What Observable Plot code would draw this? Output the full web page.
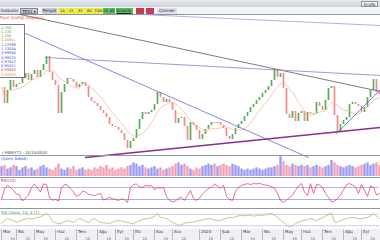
<!DOCTYPE html>
<html><head><meta charset="utf-8">
<script src="https://cdn.jsdelivr.net/npm/d3@7"></script>
<script src="https://cdn.jsdelivr.net/npm/@observablehq/plot@0.6"></script>
<style>
body{margin:0;width:380px;height:240px;overflow:hidden;background:#fff;font-family:"DejaVu Sans",sans-serif;}
#root{position:relative;width:380px;height:240px;overflow:hidden;}
.abs{position:absolute;box-sizing:border-box;white-space:nowrap;overflow:hidden;}
.panel svg{display:block;}
</style></head><body><div id="root"></div>
<script>
// ---------- DATA ----------
const close = [8.8,7.2,8.5,9.5,8.8,9.1,9.2,9.7,10.2,9.5,10.1,10.5,9.8,10.5,11.1,11.9,10.3,9.5,9.0,6.2,
8.3,9.1,9.7,9.6,9.3,8.8,9.1,9.3,8.9,7.8,7.4,7.2,6.9,6.5,6.2,5.8,5.1,4.9,4.8,4.5,
4.2,3.5,2.7,3.4,3.7,4.6,5.6,6.3,6.1,6.3,6.5,7.1,8.3,7.8,7.3,7.6,7.3,6.5,5.2,5.7,
5.8,4.9,3.5,5.3,5.0,4.5,3.6,4.1,4.6,5.0,5.3,5.2,5.3,5.0,4.7,3.9,3.6,4.1,4.7,5.1,
5.4,5.9,6.3,6.8,7.1,7.5,7.8,8.2,8.5,8.9,9.5,10.6,9.8,10.2,8.7,6.1,5.7,6.4,5.4,6.2,
6.4,5.4,6.3,6.1,6.2,7.3,6.9,6.5,7.5,8.7,8.9,6.0,4.3,5.1,5.5,5.8,7.1,7.3,7.1,6.9,
6.3,6.8,7.8,8.5,9.6,8.3,8.1];
const volume = [8,9,6,7,9,8,5,7,8,6, 7,5,6,8,9,7,6,5,7,10, 6,5,7,6,8,5,6,7,5,6,
5,7,6,8,7,9,6,7,5,6, 7,6,8,9,11,10,8,9,7,6, 7,8,6,7,5,6,7,8,10,11,
9,10,8,6,5,7,6,8,9,10, 9,10,8,9,10,9,8,10,9,8, 6,5,6,5,6,7,6,5,6,7,
7,8,9,16,12,9,8,10,9,8, 9,8,9,7,8,9,8,7,8,9, 13,11,9,8,7,8,9,8,7,8, 9,10,11,9,10,11,9];
const rsi = [30,65,78,70,60,48,45,25,35,45, 70,82,68,55,82,80,35,28,30,25,
68,80,78,65,55,40,45,58,55,48, 45,43,47,50,28,32,37,33,30,27,
32,30,20,70,80,82,72,70,77,75, 77,62,70,68,70,40,27,22,25,35,
37,27,43,60,33,27,35,48,58,67, 70,82,75,67,77,40,30,27,58,70,
77,80,83,80,83,82,84,80,78,77, 72,68,50,27,20,28,35,45,60,75,
83,55,43,83,50,80,78,70,50,37, 22,25,33,45,62,80,83,78,72,50,
80,60,40,75,70,45,50];
const stoch = [32,45,58,52,45,38,42,50,55,58, 55,60,62,68,74,84,70,42,35,30,
33,42,47,42,37,48,58,52,42,38, 50,58,45,37,35,33,32,38,44,47,
45,40,37,33,32,40,47,52,57,58, 62,70,84,63,60,58,48,38,30,22,
25,32,37,36,40,44,47,50,54,58, 55,50,47,48,55,60,63,62,68,72,
74,72,75,74,70,74,76,72,78,82, 84,75,63,50,37,22,12,20,32,38,
45,48,52,58,52,47,55,63,70,78, 84,40,37,47,52,58,62,63,60,58,
57,60,63,72,84,70,58];
// drawn trendlines: [bar index, price] endpoints
const trendDark   = [[6.33,16.1],[126.33,8.4]];
const trendPurple = [[14.67,11.8],[126.33,10.0]];
const trendTop    = [[46.33,16.1],[126.33,15.0]];
const trendFall   = [[8,14.2],[102.33,1.8]];
const trendSupport= [[28,1.8],[126.33,4.8]];
const trendRise   = [[111.67,4.2],[126.33,8.6]];
const rsiLevels = [70,30];
const stochLevels = [80,20];
const tickIndex = [0,5,11,18,25,32,38,44,51,57,66,73,80,87,94,100,107,114,120];
const tickLabels = ["Mar","Nis","May","Haz","Tem","Ağu","Eyl","Eki","Kas","Ara","2020","Şub","Mar","Nis","May","Haz","Tem","Ağu","Eyl"];
const tickSub = "15";
const legendRows = ["1,750","1,720","1,700","0,00851","1,12936","1,13004","0,99940","0,98525","0,97612","0,95021","0,93000","0,00000"];
const legendTone = ["g","g","g","o","b","b","b","b","b","b","r","o"];
const toolbarYellow = ["1A","1Y","3Y","6A","TÜM"];
const toolbarGreen = ["1S","4S","GÜNLÜK"];

// ---------- BUILD ----------
const root = document.getElementById("root");
function box(l,t,w,h,css,txt){const d=document.createElement("div");d.className="abs";
  d.style.cssText=`left:${l}px;top:${t}px;width:${w}px;height:${h}px;`+(css||"");if(txt!=null)d.textContent=txt;root.appendChild(d);return d;}
const rows = close.map((c,i)=>({i, open: i? close[i-1] : c, close: c, vol: volume[i], rsi: rsi[i], stoch: stoch[i]}));
rows.forEach(r=>r.up = r.close >= r.open);
const X = {domain:[0,126], axis:null};
const base = {width:380, marginLeft:1, marginRight:1};
const btn = "font-size:4px;line-height:6px;text-align:center;color:#223;";

// title + toolbar
box(0,0,380,7,"background:linear-gradient(#e6eaf0,#cbd2db);");
box(361,0.5,17,6,"background:#eef1f5;border:0.5px solid #8f99a6;"+btn+"line-height:5px;","Grafik");
box(0,7,380,7.5,"background:#f3f4f6;border-bottom:0.7px solid #8d96a3;");
box(0,8,19,6,"background:#dde2ea;"+btn+"color:#335;","İndikatör");
box(20,8,18,6,"background:#c9cdd3;border:0.5px solid #888;"+btn,"TRK1 ▾");
box(42,8,15,6,"background:#c9cdd3;"+btn,"Periyot");
toolbarYellow.forEach((t,k)=>box(58+k*9,8,8.5,6,"background:#eeea4e;"+btn+"font-size:3.6px;",t));
toolbarGreen.forEach((t,k)=>box([103,109,115.5][k],8,[5.5,6,17][k],6,"background:#58bd5c;"+btn+"font-size:3.6px;"+(k==2?"text-decoration:underline;":""),t));
box(136,8,8,6,"background:#c43a55;");
box(146,8,8,6,"background:#c43a55;");
box(157,8,20,6,"background:#dde2ea;"+btn,"Çizimler");

function mount(top,h,el){const d=box(0,top,380,h,"overflow:visible;");d.className="abs panel";d.appendChild(el);return d;}

// main price panel
const tl = (data,stroke,w)=>Plot.line(data,{x:d=>d[0],y:d=>d[1],stroke,strokeWidth:w});
mount(14,141,Plot.plot({...base,height:141,marginTop:0,marginBottom:0,x:X,y:{domain:[2,16.1],axis:null},
  style:{background:"transparent",overflow:"visible"},
  marks:[
    Plot.ruleX(rows,{x:"i",y1:"open",y2:"close",stroke:d=>d.up?"#5aac5a":"#f08a8a",strokeWidth:1.7}),
    Plot.lineY(rows,Plot.windowY({k:8,anchor:"end"},{x:"i",y:"close",stroke:"#f6b08a",strokeWidth:0.7})),
    tl(trendDark,"#5a5a5a",0.8),
    tl(trendPurple,"#8a80c8",0.8),
    tl(trendTop,"#a898d8",0.8),
    tl(trendFall,"#6a6ad8",0.8),
    tl(trendSupport,"#8e2c8e",1.4),
    tl(trendRise,"#5a5ad0",0.8)
  ]}));
// legend box + captions on main panel
box(0,15,70,5,"font-size:4px;line-height:5px;color:#e0503a;","Fiyat Grafiği (Kapanış)");
const lb = box(0,24,25,54,"background:#fff;border:0.6px solid #777;border-left:none;padding:0.5px 1px;");
const toneCol = {g:"#2f9a3a",o:"#e8803a",b:"#3a4fd0",r:"#d0303a"};
legendRows.forEach((t,k)=>{const s=document.createElement("div");s.style.cssText=`font-size:3.6px;line-height:4.3px;height:4.3px;color:${toneCol[legendTone[k]]};`;s.textContent=t;lb.appendChild(s);});
box(2,150,70,5,"font-size:3.8px;line-height:5px;color:#333;","( FIBRIYT1 - 22/10/2020");

// panel borders
box(0,155,380,0.8,"background:#8d96a3;");
box(0,176.6,380,0.8,"background:#8d96a3;");
box(0,208.4,380,0.8,"background:#8d96a3;");
box(0,228.6,380,0.8,"background:#8d96a3;");

// volume
mount(155,22,Plot.plot({...base,height:22,marginTop:0,marginBottom:1,x:X,y:{domain:[0,17],axis:null},
  style:{background:"transparent"},
  marks:[Plot.ruleX(rows,{x:"i",y1:0,y2:"vol",stroke:d=>d.up?"#9c9cf0":"#f3a2b6",strokeWidth:2.4})]}));
box(1,156,50,5,"font-size:4px;line-height:5px;color:#3a4fd0;","(İşlem Adedi)");

// RSI
mount(177,32,Plot.plot({...base,height:32,marginTop:1,marginBottom:1,x:X,y:{domain:[0,100],axis:null},
  style:{background:"transparent"},
  marks:[
    Plot.ruleY(rsiLevels,{stroke:(d,k)=>k? "#8f9cf0":"#b89ad8",strokeWidth:0.8}),
    Plot.lineY(rows,{x:"i",y:"rsi",stroke:"#df3444",strokeWidth:0.7})
  ]}));
box(1,178,30,5,"font-size:4px;line-height:5px;color:#d0303a;","RSI(14)");

// Stochastic
mount(209,20,Plot.plot({...base,height:20,marginTop:1,marginBottom:0,x:X,y:{domain:[0,100],axis:null},
  style:{background:"transparent"},
  marks:[
    Plot.ruleY(stochLevels,{stroke:"#b0a8d8",strokeWidth:0.6}),
    Plot.lineY(rows,{x:"i",y:"stoch",stroke:"#aab04c",strokeWidth:0.7})
  ]}));
box(1,209.5,70,5,"font-size:4px;line-height:5px;color:#4a9a3a;","%K Close, 14, 3 (1)");

// date axis
const ticks = tickIndex.map((t,k)=>({t,label:tickLabels[k]}));
mount(229,11,Plot.plot({...base,height:11,marginTop:0,marginBottom:0,x:X,y:{domain:[0,1],axis:null},
  style:{background:"#eef0f4",fontFamily:"DejaVu Sans"},
  marks:[
    Plot.tickX(ticks,{x:"t",stroke:"#8d96a3",strokeWidth:0.6}),
    Plot.text(ticks,{x:"t",frameAnchor:"top",dy:1,dx:1.5,text:"label",textAnchor:"start",fontSize:4,fill:"#333",lineAnchor:"top"}),
    Plot.text(ticks,{x:"t",frameAnchor:"bottom",dy:-0.5,dx:9,text:()=>tickSub,textAnchor:"start",fontSize:3.5,fill:"#555",lineAnchor:"bottom"})
  ]}));
</script></body></html>
